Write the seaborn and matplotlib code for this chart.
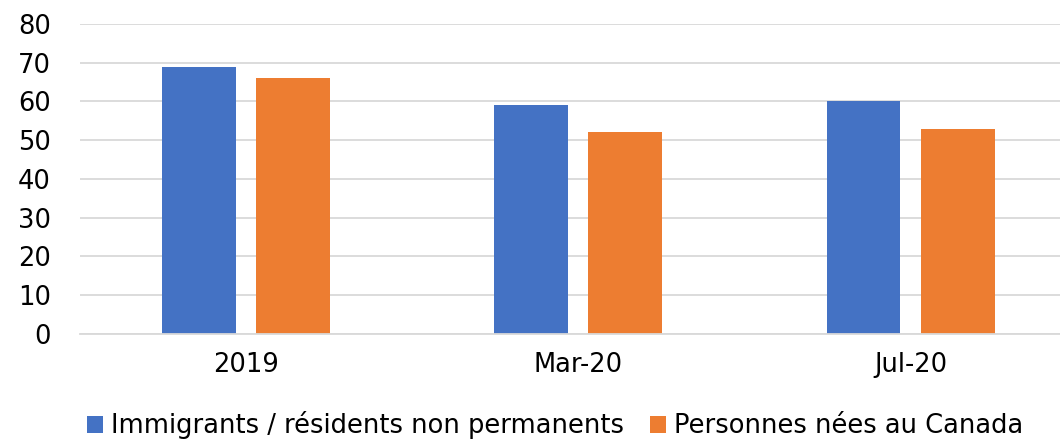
import matplotlib
matplotlib.use("Agg")
import matplotlib.pyplot as plt
import pandas as pd
import seaborn as sns

periods = ["2019", "Mar-20", "Jul-20"]
immigrants = [69, 59, 60]
nes_canada = [66, 52, 53]
series_names = ["Immigrants / résidents non permanents", "Personnes nées au Canada"]

df = pd.DataFrame({
    "periode": periods * 2,
    "valeur": immigrants + nes_canada,
    "groupe": [series_names[0]] * 3 + [series_names[1]] * 3,
})

sns.set_style("white")
plt.rcParams["font.family"] = ["DejaVu Sans"]
plt.rcParams["text.color"] = "#000000"

fig = plt.figure(figsize=(10.6, 4.4), dpi=100)
ax = fig.add_axes([80 / 1060, 1 - 334 / 440, 980 / 1060, 310 / 440])

sns.barplot(data=df, x="periode", y="valeur", hue="groupe",
            palette=["#4472C4", "#ED7D31"], width=0.566, gap=0.213,
            saturation=1, linewidth=0, ax=ax)

ax.set_ylim(0, 80)
ax.set_xlim(-0.5, 2.45)
ax.set_yticks(range(0, 81, 10))
ax.yaxis.grid(True, color="#D9D9D9", linewidth=1.3)
ax.set_axisbelow(True)
for s in ["top", "right", "left"]:
    ax.spines[s].set_visible(False)
ax.spines["bottom"].set_color("#D9D9D9")
ax.spines["bottom"].set_linewidth(1.3)
ax.tick_params(axis="both", length=0, labelsize=18.5, colors="#000000")
ax.tick_params(axis="x", pad=13)
ax.tick_params(axis="y", pad=21)
ax.set_xlabel("")
ax.set_ylabel("")

# legend below the plot, centred under the figure
handles, labels = ax.get_legend_handles_labels()
ax.legend(handles, labels, loc="center", bbox_to_anchor=(0.5 - 15 / 980, -0.295),
          ncol=2, frameon=False, fontsize=18.5, handlelength=0.65, handleheight=0.65,
          handletextpad=0.3, columnspacing=1.0, borderaxespad=0)

fig.savefig("out.png", dpi=100)
